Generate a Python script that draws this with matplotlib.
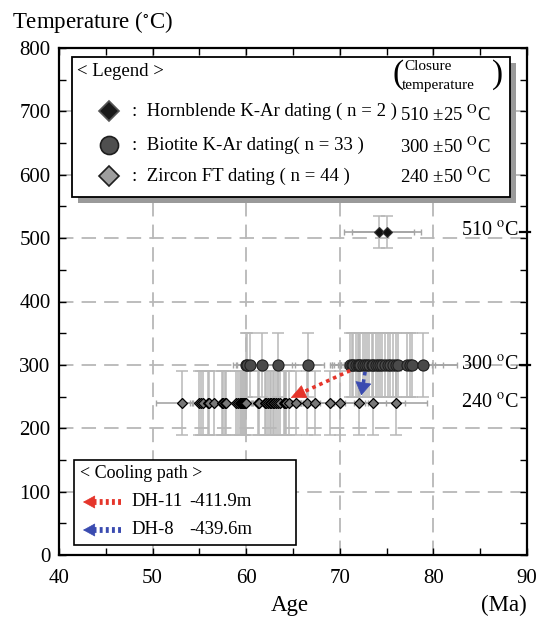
import matplotlib
matplotlib.use('Agg')
import numpy as np
import matplotlib.pyplot as plt
from matplotlib.patches import Rectangle, FancyArrowPatch
from matplotlib.lines import Line2D
from matplotlib.ticker import MultipleLocator

plt.rcParams['font.family'] = ['Liberation Serif', 'DejaVu Serif']
plt.rcParams['mathtext.fontset'] = 'stix'

# ---------------- data ----------------
ages_hb = [74.2, 75.0]
xerr_hb = [3.7, 3.7]
temp_hb = [510, 510]
yerr_hb = 25

ages_bt = [60.0, 60.1, 60.4, 61.7, 63.4, 66.6,
           71.1, 71.3, 71.4, 71.7, 71.9, 72.0, 72.2, 72.5, 72.7, 72.9,
           73.1, 73.4, 73.6, 73.9, 74.1, 74.3, 74.5, 74.8, 75.1, 75.4,
           75.7, 76.0, 76.25, 77.15, 77.5, 77.7, 78.9]
xerr_bt = [1.4, 1.2, 1.4, 1.6, 1.8, 1.7, 1.0, 1.5, 2.0, 2.5, 1.8, 3.0, 2.2,
           1.6, 3.5, 2.4, 1.9, 2.8, 3.2, 2.1, 1.7, 3.0, 2.6, 1.5, 3.3, 2.0,
           2.9, 1.8, 2.5, 3.0, 3.5, 2.2, 3.6]
temp_bt = [300] * len(ages_bt)
yerr_bt = 50

ages_zr = [53.1, 55.0, 55.2, 55.4, 55.9, 56.0, 56.6, 57.4, 57.5, 57.7,
           57.8, 58.9, 59.1, 59.3, 59.4, 59.6, 59.7, 59.8, 59.9, 60.0,
           61.3, 61.4, 62.0, 62.1, 62.3, 62.5, 62.7, 62.9, 63.0, 63.2,
           63.4, 63.6, 64.0, 64.1, 64.3, 64.6, 65.3, 66.5, 67.4, 69.0,
           70.0, 72.1, 73.6, 76.0]
xerr_zr = [2.7, 1.8, 2.2, 2.5, 1.6, 2.0, 2.4, 1.9, 2.8, 2.1, 1.7, 2.3, 2.6,
           1.8, 3.0, 2.2, 1.9, 2.5, 2.8, 2.0, 2.4, 1.7, 2.9, 2.1, 2.6, 1.8,
           3.1, 2.3, 1.9, 2.7, 2.2, 2.5, 3.0, 1.8, 2.4, 2.0, 2.6, 2.9, 3.2,
           2.5, 3.0, 2.8, 3.4, 3.3]
temp_zr = [240] * len(ages_zr)
yerr_zr = 50

# cooling paths (start age, start temp) -> (end age, end temp)
path_dh11 = [(71.1, 291), (64.75, 248)]
path_dh8 = [(72.7, 289), (72.3, 252)]

closure_temps = [510, 300, 240]
closure_labels = ['510 $^{\\mathrm{o}}$C', '300 $^{\\mathrm{o}}$C', '240 $^{\\mathrm{o}}$C']

legend_rows = [':  Hornblende K-Ar dating ( n = 2 )',
               ':  Biotite K-Ar dating( n = 33 )',
               ':  Zircon FT dating ( n = 44 )']
legend_temps = ['510 \u00b125 $^{\\mathrm{O}}$C', '300 \u00b150 $^{\\mathrm{O}}$C',
                '240 \u00b150 $^{\\mathrm{O}}$C']

RED = '#e5352b'
BLUE = '#3a4bb0'
GRID = '#b8b8b8'
EBAR = '#b8b8b8'

# ---------------- figure ----------------
W, H = 540, 620
fig = plt.figure(figsize=(W / 100, H / 100), dpi=100)
ax = fig.add_axes([59 / W, 65 / H, 468 / W, 507 / H])


def P(px, py):
    return (px / W, 1 - py / H)


def dotted_arrow(parent, trans, start, tip, col, lw, dash, head_px, halfw_px, z):
    """Dotted shaft plus solid filled head."""
    s = np.array(trans.transform(start))
    t = np.array(trans.transform(tip))
    v = s - t
    u = v / np.hypot(*v)
    base_disp = t + u * head_px
    base = trans.inverted().transform(base_disp)
    line = Line2D([start[0], base[0]], [start[1], base[1]], transform=trans,
                  color=col, lw=lw, ls=(0, dash), solid_capstyle='butt',
                  dash_capstyle='butt', zorder=z, clip_on=False)
    head = FancyArrowPatch(tuple(base), tuple(tip), transform=trans,
                           arrowstyle='-|>,head_length=%g,head_width=%g'
                           % (head_px / 1.389, halfw_px / 1.389),
                           mutation_scale=1, color=col, lw=0.5,
                           shrinkA=0, shrinkB=0, zorder=z, clip_on=False)
    if parent is fig:
        fig.add_artist(line)
        fig.add_artist(head)
    else:
        parent.add_line(line)
        parent.add_patch(head)


ax.set_xlim(40, 90)
ax.set_ylim(0, 800)
ax.xaxis.set_major_locator(MultipleLocator(10))
ax.xaxis.set_minor_locator(MultipleLocator(5))
ax.yaxis.set_major_locator(MultipleLocator(100))
ax.yaxis.set_minor_locator(MultipleLocator(50))
ax.tick_params(which='both', direction='in', top=True, right=True,
               labelsize=15, width=1.0, color='black')
ax.tick_params(which='both', length=5)
ax.tick_params(axis='x', pad=10)
ax.tick_params(axis='y', pad=6)
for s in ax.spines.values():
    s.set_linewidth(1.6)

for gx in [50, 60, 70, 80]:
    ax.axvline(gx, color=GRID, lw=1.3, ls=(0, (8, 4.5)), zorder=0)
for gy in range(100, 800, 100):
    ax.axhline(gy, color=GRID, lw=1.3, ls=(0, (8, 4.5)), zorder=0)

# error bars
for ages, temps, xe, ye in [(ages_zr, temp_zr, xerr_zr, yerr_zr),
                            (ages_bt, temp_bt, xerr_bt, yerr_bt),
                            (ages_hb, temp_hb, xerr_hb, yerr_hb)]:
    ax.errorbar(ages, temps, yerr=ye, fmt='none', ecolor=EBAR, elinewidth=1.1,
                capsize=4.5, capthick=1.1, zorder=1)
    ax.errorbar(ages, temps, xerr=xe, fmt='none', ecolor='#a5a5a5',
                elinewidth=1.2, capsize=2.2, capthick=1.0, zorder=1.5)

ax.plot(ages_zr, temp_zr, 'D', ms=5.3, mfc='#787878', mec='black', mew=0.9,
        ls='none', zorder=3)
ax.plot(ages_bt, temp_bt, 'o', ms=8, mfc='#4a4a4a', mec='#1e1e1e', mew=0.8,
        ls='none', zorder=3)
ax.plot(ages_hb, temp_hb, 'D', ms=5.2, mfc='#111111', mec='#333333', mew=0.8,
        ls='none', zorder=3)

# cooling path arrows
dotted_arrow(ax, ax.transData, path_dh11[0], path_dh11[1], RED, 2.6,
             (1, 1.1), 14, 6.5, 4)
dotted_arrow(ax, ax.transData, path_dh8[0], path_dh8[1], BLUE, 2.6,
             (1, 1.1), 12, 7.5, 4)

# closure temperature labels at right
for t, lab in zip(closure_temps, closure_labels):
    ax.text(82.9, t, lab, fontsize=14.5, va='center', ha='left', zorder=5)
for t in closure_temps[:2]:
    ax.plot([0.985, 1.006], [t, t], color='black', lw=1.6,
            transform=ax.get_yaxis_transform(), clip_on=False, zorder=5)

# axis titles
fig.text(12 / W, 1 - 22 / H, 'Temperature ($^{\\circ}$C)', fontsize=16.5,
         ha='left', va='center')
fig.text(290 / W, 1 - 605 / H, 'Age', fontsize=16.5, ha='center', va='center')
fig.text(527 / W, 1 - 605 / H, '(Ma)', fontsize=16.5, ha='right', va='center')

# ---------------- legend box ----------------
fig.add_artist(Rectangle(P(78, 203), 438 / W, 140 / H, transform=fig.transFigure,
                         facecolor='#9a9a9a', edgecolor='none', zorder=1))
fig.add_artist(Rectangle(P(72, 197), 438 / W, 140 / H, transform=fig.transFigure,
                         facecolor='white', edgecolor='black', lw=1.3, zorder=1.1))
fig.text(*P(77, 72), '< Legend >', fontsize=13.5, va='center', ha='left')
fig.text(*P(392, 75), '(', fontsize=24, va='center', ha='left',
         fontweight='light')
fig.text(*P(492, 75), ')', fontsize=24, va='center', ha='left',
         fontweight='light')
fig.text(*P(404, 66), 'Closure', fontsize=11, va='center', ha='left')
fig.text(*P(402, 85), 'temperature', fontsize=11, va='center', ha='left')

row_y = [111, 145, 176]
mk = [dict(marker='D', ms=10, mfc='#1a1a1a', mec='#555555', mew=1.2),
      dict(marker='o', ms=13, mfc='#4f4f4f', mec='#1e1e1e', mew=1.2),
      dict(marker='D', ms=10, mfc='#9e9e9e', mec='#1e1e1e', mew=1.2)]
for y, m, txt, ttxt, dy in zip(row_y, mk, legend_rows, legend_temps, [4, 2, 1]):
    fig.add_artist(Line2D([109 / W], [1 - y / H], transform=fig.transFigure,
                          ls='none', zorder=2, **m))
    fig.text(*P(132, y), txt, fontsize=13.5, va='center', ha='left')
    fig.text(*P(400, y + dy), ttxt, fontsize=13.5, va='center', ha='left')

# ---------------- cooling path box ----------------
fig.add_artist(Rectangle(P(74, 545), 222 / W, 85 / H, transform=fig.transFigure,
                         facecolor='white', edgecolor='black', lw=1.2, zorder=1.1))
fig.text(*P(80, 474), '< Cooling path >', fontsize=13, va='center', ha='left')
for y, col, name, depth in [(502, RED, 'DH-11', '-411.9m'),
                            (530, BLUE, 'DH-8', '-439.6m')]:
    dotted_arrow(fig, fig.transFigure, P(121, y), P(83, y), col, 4.2,
                 (0.5, 0.55), 11, 6, 2)
    fig.text(*P(131, y), name, fontsize=13.5, va='center', ha='left')
    fig.text(*P(189, y), depth, fontsize=13.5, va='center', ha='left')

fig.savefig('out.png', dpi=100)
